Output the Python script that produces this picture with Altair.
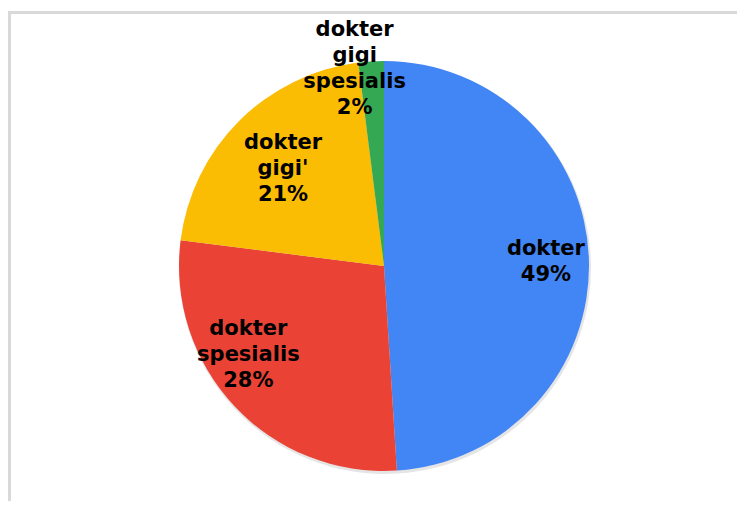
import altair as alt
import pandas as pd

# Data
kategori = ["dokter", "dokter spesialis", "dokter gigi'", "dokter gigi spesialis"]
nilai = [49, 28, 21, 2]
warna = ["#4285F4", "#EA4335", "#FBBC04", "#34A853"]

total = sum(nilai)
df = pd.DataFrame({
    "kategori": kategori,
    "nilai": nilai,
    "urut": list(range(len(kategori))),
    "label": [k.replace(" ", "\n") + f"\n{round(v / total * 100)}%" for k, v in zip(kategori, nilai)],
})

W, H = 729, 493
CX, CY = 376, 258
R = 205
LH = 26

base = alt.Chart(df).encode(
    theta=alt.Theta("nilai:Q", stack=True),
    order=alt.Order("urut:Q", sort="ascending"),
    detail=alt.Detail("kategori:N"),
)

shadow = base.mark_arc(radius=R + 1, color="#000000", opacity=0.10).encode(
    x=alt.value(CX + 1), y=alt.value(CY + 2)
)

pie = base.mark_arc(radius=R).encode(
    x=alt.value(CX),
    y=alt.value(CY),
    color=alt.Color("kategori:N", scale=alt.Scale(domain=kategori, range=warna), legend=None),
)

# per-label placement (radius, dx, dy) for the centre of each text block
placement = [(162, 0, 1), (160, -19, -21), (140, -2, 2), (197, -17, 0)]


def label_layer(i, radius, dx, dy):
    n_lines = df["label"][i].count("\n") + 1
    return base.mark_text(
        radius=radius, dx=dx, dy=dy - (n_lines - 1) * LH / 2,
        font="DejaVu Sans", fontSize=21, fontWeight="bold",
        lineBreak="\n", lineHeight=LH,
        align="center", baseline="middle", color="#000000",
    ).encode(
        x=alt.value(CX),
        y=alt.value(CY),
        text="label:N",
        opacity=alt.condition(alt.datum.urut == i, alt.value(1), alt.value(0)),
    )


labels = [label_layer(i, *p) for i, p in enumerate(placement)]

frame = alt.Data(values=[{"a": 1}])
top_line = alt.Chart(frame).mark_rule(color="#d9d9d9", strokeWidth=3).encode(
    x=alt.value(0), x2=alt.value(W), y=alt.value(4.5)
)
left_line = alt.Chart(frame).mark_rule(color="#d9d9d9", strokeWidth=3).encode(
    x=alt.value(1.5), y=alt.value(3), y2=alt.value(H)
)

chart = alt.layer(top_line, left_line, shadow, pie, *labels).properties(
    width=W, height=H, autosize="none", padding=0
).configure_view(stroke=None)

chart.save("out.html", embed_options={"renderer": "svg", "actions": False})
